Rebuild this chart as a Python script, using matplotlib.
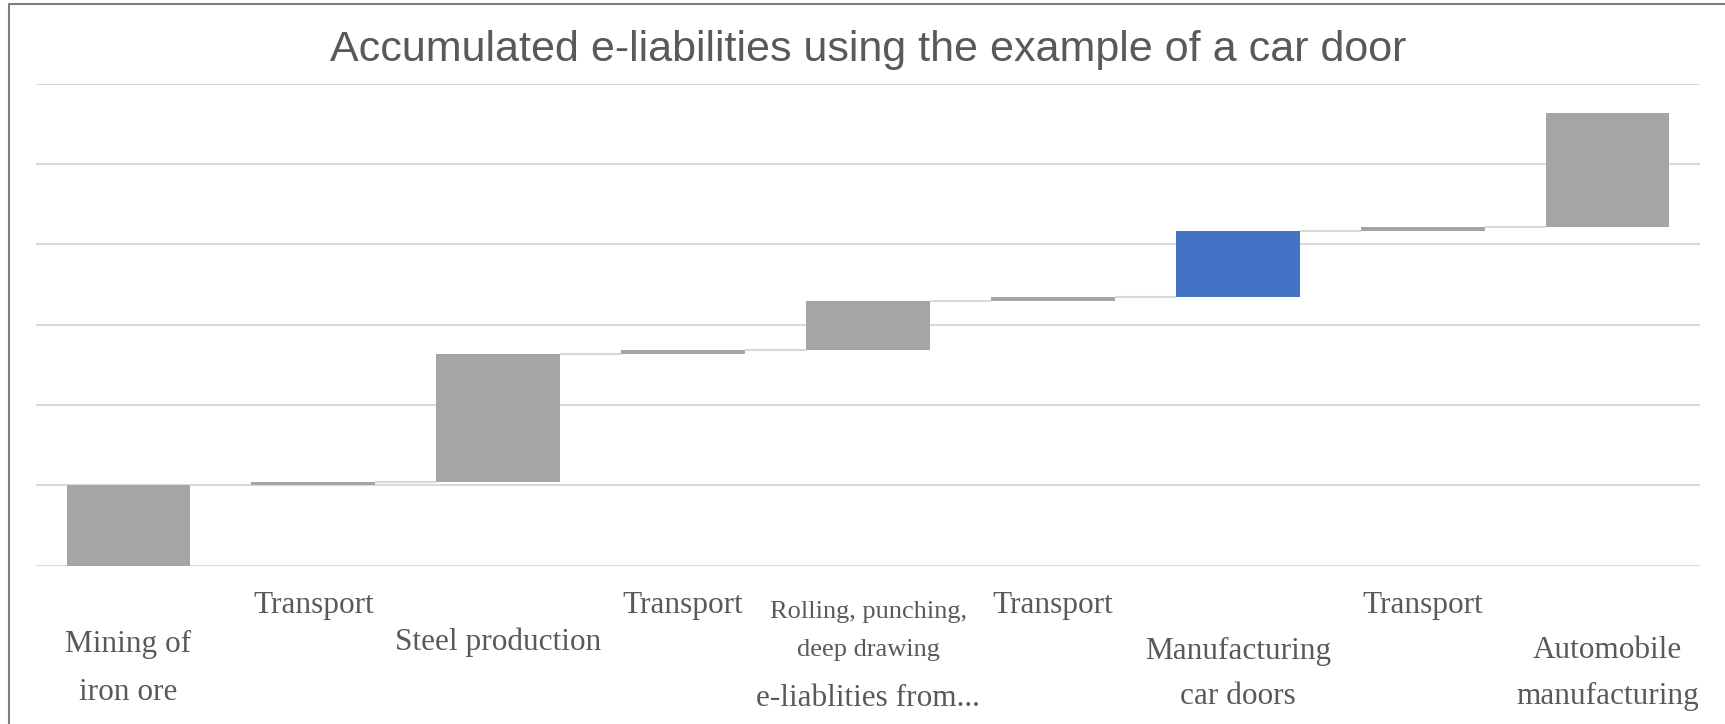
import numpy as np
import matplotlib.pyplot as plt
from matplotlib.transforms import blended_transform_factory
from matplotlib.patches import Rectangle

title = "Accumulated e-liabilities using the example of a car door"

# category labels, one list of lines per bar
tick_labels = [
    ["Mining of", "iron ore"],
    ["Transport"],
    ["Steel production"],
    ["Transport"],
    ["Rolling, punching,", "deep drawing", "e-liablities from..."],
    ["Transport"],
    ["Manufacturing", "car doors"],
    ["Transport"],
    ["Automobile", "manufacturing"],
]

# increments of each step (gridline units)
increments = [1.00, 0.04, 1.60, 0.05, 0.61, 0.05, 0.81, 0.06, 1.42]
highlight = 6

# label layout: y centre (pixels from top) and font size for each line
label_rows = [
    [(644, 22.5), (693, 22.5)],
    [(606, 22.5)],
    [(642, 22.5)],
    [(606, 22.5)],
    [(612, 19), (650, 19), (698, 22.5)],
    [(606, 22.5)],
    [(651, 22.5), (696, 22.5)],
    [(606, 22.5)],
    [(651, 22.5), (696, 22.5)],
]

W, H = 1725, 724
fig = plt.figure(figsize=(W / 100, H / 100), dpi=100)
ax = fig.add_axes([36 / W, 1 - 565.7 / H, (1700 - 36) / W, (565.7 - 83.6) / H])

x = np.arange(len(increments))
vals = np.array(increments)
tops = np.cumsum(vals)
bases = tops - vals
colors = ["#A5A5A5"] * len(vals)
colors[highlight] = "#4472C4"
bw = 0.67

ax.bar(x, vals, bottom=bases, width=bw, color=colors, zorder=3)
ax.hlines(tops[:-1], x[:-1] + bw / 2, x[1:] - bw / 2, color="#D9D9D9", lw=1.5, zorder=2)

ax.set_xlim(-0.5, len(vals) - 0.5)
ax.set_ylim(0, 6)
ax.set_yticks(range(7))
ax.grid(axis="y", color="#D9D9D9", lw=1.5, zorder=0)
ax.set_axisbelow(True)
ax.tick_params(left=False, bottom=False, labelleft=False, labelbottom=False)
for s in ax.spines.values():
    s.set_visible(False)

trans = blended_transform_factory(ax.transData, fig.transFigure)
for i, lines in enumerate(tick_labels):
    for text, (ypx, size) in zip(lines, label_rows[i]):
        ax.text(i, 1 - ypx / H, text, transform=trans, ha="center", va="center",
                fontsize=size, family="Liberation Serif", color="#595959", clip_on=False)

fig.text(868 / W, 1 - 50 / H, title, ha="center", va="center", fontsize=31,
         family="Liberation Sans", color="#595959")

# chart border (only left and top are inside the picture)
fig.patches.append(Rectangle((9 / W, -0.05), 1.1, 1.05 - 4 / H, transform=fig.transFigure,
                             fill=False, edgecolor="#7F7F7F", lw=1.5))

fig.savefig("out.png", dpi=100)
